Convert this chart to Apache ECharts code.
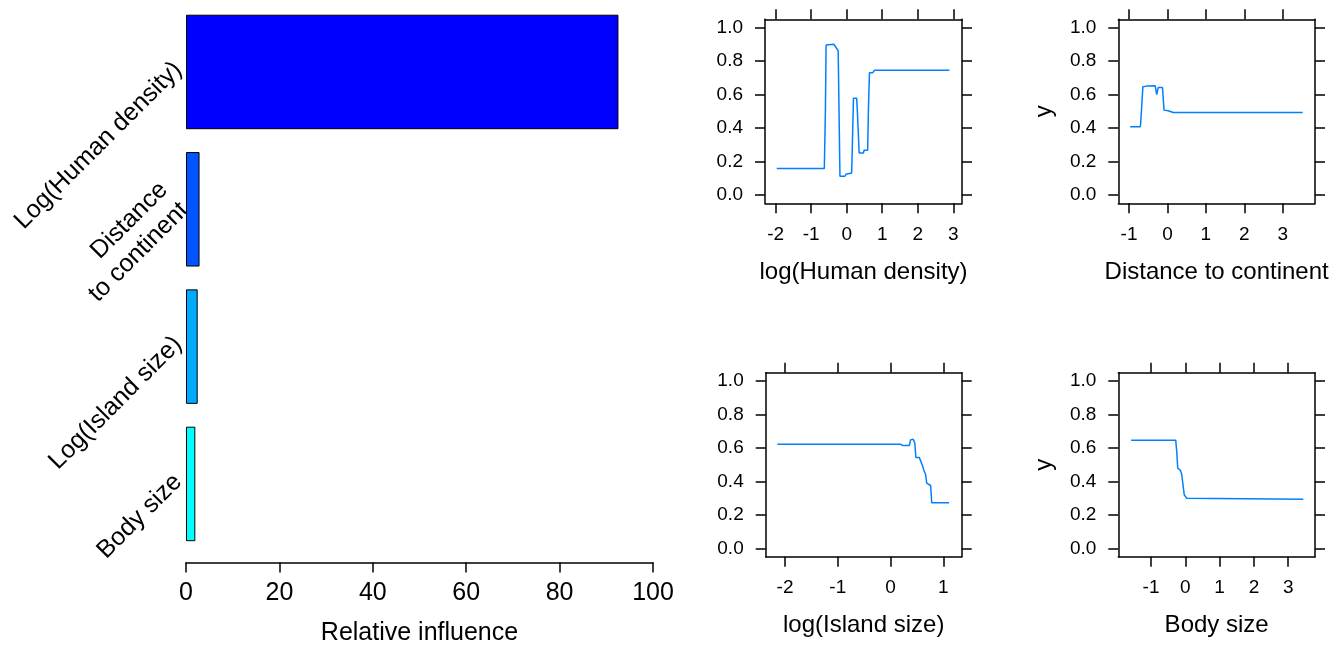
<!DOCTYPE html>
<html>
<head>
<meta charset="utf-8">
<script src="https://cdn.jsdelivr.net/npm/echarts@6/dist/echarts.min.js"></script>
<style>html,body{margin:0;padding:0;background:#fff;}#c{width:1339px;height:646px;}</style>
</head>
<body>
<div id="c"></div>
<script>
// ---- data ----
const barCategories = ['Log(Human density)', 'Distance\nto continent', 'Log(Island size)', 'Body size'];
const barValues = [92.6, 2.9, 2.5, 2.0];
const barTicks = [0, 20, 40, 60, 80, 100];

const yTicks = [0, 0.2, 0.4, 0.6, 0.8, 1.0];

const humanDensityTicks = [-2, -1, 0, 1, 2, 3];
const humanDensity = [
  [-1.97, 0.159], [-0.63, 0.159], [-0.60, 0.50], [-0.58, 0.895], [-0.36, 0.899],
  [-0.30, 0.88], [-0.24, 0.86], [-0.21, 0.85], [-0.19, 0.113], [-0.05, 0.113],
  [-0.02, 0.125], [0.0, 0.133], [0.14, 0.133], [0.17, 0.40], [0.19, 0.577],
  [0.28, 0.577], [0.30, 0.50], [0.35, 0.252], [0.47, 0.252], [0.49, 0.268],
  [0.59, 0.268], [0.61, 0.50], [0.64, 0.73], [0.73, 0.73], [0.78, 0.744], [2.89, 0.744]
];

const distanceTicks = [-1, 0, 1, 2, 3];
const distance = [
  [-0.97, 0.408], [-0.71, 0.408], [-0.70, 0.42], [-0.64, 0.646], [-0.54, 0.65],
  [-0.50, 0.656], [-0.32, 0.652], [-0.28, 0.60], [-0.24, 0.642], [-0.13, 0.642],
  [-0.09, 0.507], [0.02, 0.503], [0.15, 0.493], [3.52, 0.493]
];

const islandTicks = [-2, -1, 0, 1];
const island = [
  [-2.145, 0.622], [0.19, 0.622], [0.23, 0.614], [0.355, 0.614], [0.38, 0.648],
  [0.43, 0.652], [0.46, 0.628], [0.48, 0.543], [0.545, 0.543], [0.57, 0.549],
  [0.60, 0.499], [0.63, 0.469], [0.665, 0.44], [0.685, 0.39], [0.715, 0.38],
  [0.76, 0.376], [0.78, 0.274], [1.11, 0.274]
];

const bodyTicks = [-1, 0, 1, 2, 3];
const body = [
  [-1.58, 0.646], [-0.28, 0.646], [-0.25, 0.579], [-0.22, 0.479], [-0.155, 0.469],
  [-0.11, 0.449], [-0.06, 0.445], [-0.03, 0.32], [0.04, 0.300], [0.087, 0.294], [3.44, 0.294]
];

// ---- layout / style ----
const FONT = '"Liberation Sans", Arial, sans-serif';
const barColors = ['#0000FF', '#0055FF', '#00AAFF', '#00FFFF'];
const panels = [
  { box: { left: 765, top: 19.3, width: 197, height: 184 }, xr: [-2.30, 3.245], ticks: humanDensityTicks, name: 'log(Human density)', data: humanDensity, yName: '' },
  { box: { left: 1118.3, top: 19.3, width: 196.7, height: 184 }, xr: [-1.28, 3.84], ticks: distanceTicks, name: 'Distance to continent', data: distance, yName: 'y' },
  { box: { left: 765.7, top: 372.7, width: 196, height: 184 }, xr: [-2.366, 1.348], ticks: islandTicks, name: 'log(Island size)', data: island, yName: '' },
  { box: { left: 1118.3, top: 372.7, width: 196.7, height: 184 }, xr: [-1.953, 3.78], ticks: bodyTicks, name: 'Body size', data: body, yName: 'y' }
];

const NB = { outerBoundsMode: 'none', containLabel: false };
const isMulti = s => s.indexOf('\n') >= 0;
// grid 0: bars; grids 1-2: category labels (same band layout, lifted slightly as in the original)
const grids = [
  Object.assign({ left: 186, top: 3.3, width: 467, height: 549.3 }, NB),
  Object.assign({ left: 186, top: -2.7, width: 467, height: 549.3 }, NB),
  Object.assign({ left: 186, top: -9.7, width: 467, height: 549.3 }, NB)
];
const labelStyle = { color: '#000', fontSize: 25, fontFamily: FONT, rotate: 45, lineHeight: 29 };
const xAxes = [{
  type: 'value', gridIndex: 0, min: 0, max: 100, interval: 20, offset: 10,
  axisLine: { show: true, lineStyle: { color: '#000', width: 1.5 } },
  axisTick: { show: true, length: 10, lineStyle: { color: '#000', width: 1.5 } },
  axisLabel: { color: '#000', fontSize: 25, fontFamily: FONT, margin: 18 },
  splitLine: { show: false },
  name: 'Relative influence', nameLocation: 'middle', nameGap: 58,
  nameTextStyle: { color: '#000', fontSize: 25, fontFamily: FONT }
}, { type: 'value', gridIndex: 1, min: 0, max: 100, show: false },
   { type: 'value', gridIndex: 2, min: 0, max: 100, show: false }];
const yAxes = [{
  type: 'category', gridIndex: 0, data: barCategories, inverse: true,
  axisLine: { show: false }, axisTick: { show: false }, axisLabel: { show: false }
}, {
  type: 'category', gridIndex: 1, data: barCategories, inverse: true,
  axisLine: { show: false }, axisTick: { show: false },
  axisLabel: Object.assign({ margin: 8, interval: 0, formatter: v => isMulti(v) ? '' : v }, labelStyle)
}, {
  type: 'category', gridIndex: 2, data: barCategories, inverse: true,
  axisLine: { show: false }, axisTick: { show: false },
  axisLabel: Object.assign({ margin: 12, interval: 0, formatter: v => isMulti(v) ? v : '' }, labelStyle)
}];
const series = [{
  type: 'bar', xAxisIndex: 0, yAxisIndex: 0, barWidth: 114.5,
  data: barValues.map((v, i) => ({ value: v, itemStyle: { color: barColors[i] } })),
  itemStyle: { borderColor: '#000', borderWidth: 1 }, silent: true
}];

const lineSt = { color: '#000', width: 1.5 };
panels.forEach((p, i) => {
  const g = grids.length;
  grids.push(Object.assign({}, p.box, NB));
  const xBase = {
    type: 'value', gridIndex: g, min: p.xr[0], max: p.xr[1],
    axisLine: { show: true, onZero: false, lineStyle: lineSt },
    axisTick: { show: true, inside: false, length: 10, lineStyle: lineSt, customValues: p.ticks },
    splitLine: { show: false }
  };
  const xi = xAxes.length;
  xAxes.push(Object.assign({}, xBase, {
    position: 'bottom',
    axisLabel: { show: true, color: '#000', fontSize: 19, fontFamily: FONT, margin: 22, customValues: p.ticks },
    name: p.name, nameLocation: 'middle', nameGap: 57,
    nameTextStyle: { color: '#000', fontSize: 24, fontFamily: FONT }
  }));
  xAxes.push(Object.assign({}, xBase, { position: 'top', axisLabel: { show: false } }));
  const yBase = {
    type: 'value', gridIndex: g, min: -0.048, max: 1.048,
    axisLine: { show: true, onZero: false, lineStyle: lineSt },
    axisTick: { show: true, inside: false, length: 10, lineStyle: lineSt, customValues: yTicks },
    splitLine: { show: false }
  };
  const yi = yAxes.length;
  yAxes.push(Object.assign({}, yBase, {
    position: 'left',
    axisLabel: { show: true, color: '#000', fontSize: 19, fontFamily: FONT, margin: 22, customValues: yTicks,
      formatter: v => v.toFixed(1) },
    name: p.yName, nameLocation: 'middle', nameGap: 62,
    nameTextStyle: { color: '#000', fontSize: 24, fontFamily: FONT }
  }));
  yAxes.push(Object.assign({}, yBase, { position: 'right', axisLabel: { show: false } }));
  series.push({
    type: 'line', xAxisIndex: xi, yAxisIndex: yi,
    data: p.data, showSymbol: false, symbol: 'none', silent: true,
    lineStyle: { color: '#0080ff', width: 1.5 }
  });
});

const chart = echarts.init(document.getElementById('c'), null, { renderer: 'canvas' });
chart.setOption({
  animation: false,
  backgroundColor: '#fff',
  grid: grids,
  xAxis: xAxes,
  yAxis: yAxes,
  series: series
});
</script>
</body>
</html>
